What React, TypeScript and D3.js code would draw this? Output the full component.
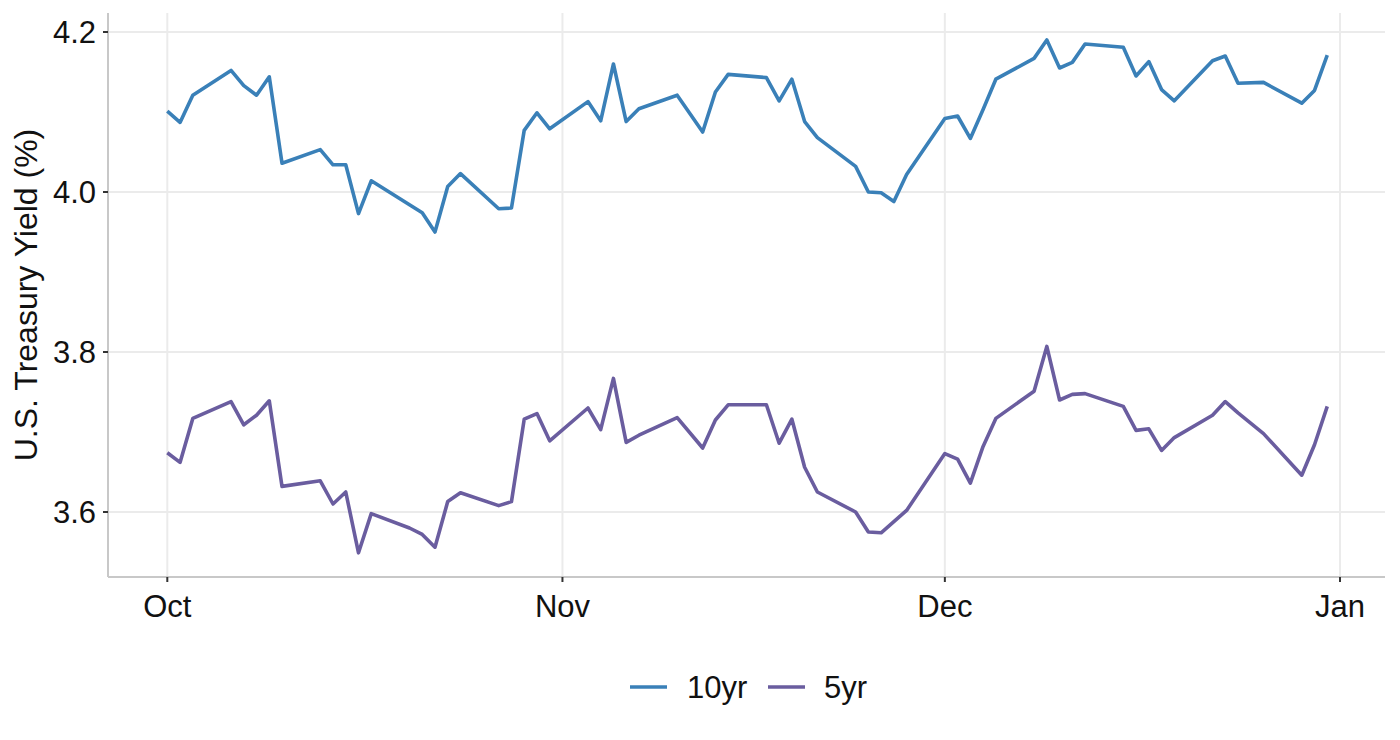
import React from "react";
import * as d3 from "d3";

const dates: string[] = [
  "2025-10-01","2025-10-02","2025-10-03","2025-10-06","2025-10-07","2025-10-08","2025-10-09","2025-10-10",
  "2025-10-13","2025-10-14","2025-10-15","2025-10-16","2025-10-17","2025-10-20","2025-10-21","2025-10-22",
  "2025-10-23","2025-10-24","2025-10-27","2025-10-28","2025-10-29","2025-10-30","2025-10-31",
  "2025-11-03","2025-11-04","2025-11-05","2025-11-06","2025-11-07","2025-11-10","2025-11-12","2025-11-13",
  "2025-11-14","2025-11-17","2025-11-18","2025-11-19","2025-11-20","2025-11-21","2025-11-24","2025-11-25",
  "2025-11-26","2025-11-27","2025-11-28",
  "2025-12-01","2025-12-02","2025-12-03","2025-12-04","2025-12-05","2025-12-08","2025-12-09","2025-12-10",
  "2025-12-11","2025-12-12","2025-12-15","2025-12-16","2025-12-17","2025-12-18","2025-12-19","2025-12-22",
  "2025-12-23","2025-12-24","2025-12-26","2025-12-29","2025-12-30","2025-12-31",
];

const yield10: (number | null)[] = [
  4.101, 4.087, 4.121, 4.152, 4.133, 4.121, 4.144, 4.036,
  4.053, 4.034, 4.034, 3.973, 4.014, 3.984, 3.974, 3.950,
  4.007, 4.023, 3.979, 3.980, 4.077, 4.099, 4.079,
  4.113, 4.089, 4.160, 4.088, 4.104, 4.121, 4.075, 4.125,
  4.147, 4.143, 4.114, 4.141, 4.088, 4.068, 4.032, 4.000,
  3.999, 3.988, 4.022,
  4.092, 4.095, 4.067, 4.103, 4.141, 4.167, 4.190, 4.155,
  4.162, 4.185, 4.181, 4.145, 4.163, 4.128, 4.114, 4.164,
  4.170, 4.136, 4.137, 4.111, 4.127, 4.171,
];

const yield5: (number | null)[] = [
  3.674, 3.662, 3.717, 3.738, 3.709, 3.721, 3.739, 3.632,
  3.639, 3.610, 3.625, 3.549, 3.598, 3.580, 3.572, 3.556,
  3.613, 3.624, 3.608, 3.613, 3.716, 3.723, 3.689,
  3.730, 3.703, 3.767, 3.687, 3.696, 3.718, 3.680, 3.715,
  3.734, 3.734, 3.686, 3.716, 3.656, 3.625, 3.600, 3.575,
  3.574, null, 3.602,
  3.673, 3.666, 3.636, 3.682, 3.717, 3.751, 3.807, 3.740,
  3.747, 3.748, 3.732, 3.702, 3.704, 3.677, 3.693, 3.721,
  3.738, 3.724, 3.698, 3.646, 3.684, 3.732,
];

const seriesNames = ["10yr", "5yr"];
const seriesColors = ["#3a80b8", "#6a5d9f"];
const yTicks = [3.6, 3.8, 4.0, 4.2];
const xTickDates = ["2025-10-01", "2025-11-01", "2025-12-01", "2026-01-01"];
const xTickLabels = ["Oct", "Nov", "Dec", "Jan"];
const yTitle = "U.S. Treasury Yield (%)";

const parse = d3.timeParse("%Y-%m-%d");
const FONT = "'Liberation Sans', Arial, Helvetica, sans-serif";

export default function App() {
  const W = 1400, H = 740;
  const panel = { left: 108, right: 1385, top: 13, bottom: 577 };

  const x = d3.scaleTime()
    .domain([parse("2025-10-01")!, parse("2026-01-01")!])
    .range([167.3, 1340]);
  const y = d3.scaleLinear().domain([3.6, 4.2]).range([512, 32]);

  const series = [yield10, yield5].map((vals, i) => ({
    name: seriesNames[i],
    color: seriesColors[i],
    points: dates
      .map((d, j) => ({ date: parse(d)!, value: vals[j] }))
      .filter((p) => p.value !== null) as { date: Date; value: number }[],
  }));

  const line = d3.line<{ date: Date; value: number }>()
    .x((d) => x(d.date))
    .y((d) => y(d.value));

  const gridColor = "#ebebeb";
  const axisColor = "#c8c8c8";
  const fs = 31;
  const titleFs = 32;

  const legendY = 687;
  const legendItems = [
    { keyX: 630, textX: 687 },
    { keyX: 768, textX: 824 },
  ];

  return (
    <svg width={W} height={H} style={{ position: "absolute", left: 0, top: 0, background: "#fff" }}>
      <rect x={0} y={0} width={W} height={H} fill="#fff" />
      {/* grid */}
      {yTicks.map((t) => (
        <line key={"gy" + t} x1={panel.left} x2={panel.right} y1={y(t)} y2={y(t)} stroke={gridColor} strokeWidth={2} />
      ))}
      {xTickDates.map((t) => (
        <line key={"gx" + t} x1={x(parse(t)!)} x2={x(parse(t)!)} y1={panel.top} y2={panel.bottom} stroke={gridColor} strokeWidth={2} />
      ))}
      {/* axes */}
      <line x1={panel.left} x2={panel.left} y1={panel.top} y2={panel.bottom} stroke={axisColor} strokeWidth={2} />
      <line x1={panel.left} x2={panel.right} y1={panel.bottom} y2={panel.bottom} stroke={axisColor} strokeWidth={2} />
      {yTicks.map((t) => (
        <g key={"ty" + t}>
          <line x1={panel.left - 5} x2={panel.left} y1={y(t)} y2={y(t)} stroke="#333" strokeWidth={2} />
          <text x={panel.left - 12} y={y(t)} dy="0.35em" textAnchor="end" fontFamily={FONT} fontSize={fs} fill="#111">
            {d3.format(".1f")(t)}
          </text>
        </g>
      ))}
      {xTickDates.map((t, i) => (
        <g key={"tx" + t}>
          <line x1={x(parse(t)!)} x2={x(parse(t)!)} y1={panel.bottom} y2={panel.bottom + 5} stroke="#333" strokeWidth={2} />
          <text x={x(parse(t)!)} y={617} textAnchor="middle" fontFamily={FONT} fontSize={fs} fill="#111">
            {xTickLabels[i]}
          </text>
        </g>
      ))}
      <text
        transform={`translate(37, ${(panel.top + panel.bottom) / 2}) rotate(-90)`}
        textAnchor="middle"
        fontFamily={FONT}
        fontSize={titleFs}
        fill="#111"
      >
        {yTitle}
      </text>
      {/* lines */}
      {series.map((s) => (
        <path key={s.name} d={line(s.points) || ""} fill="none" stroke={s.color} strokeWidth={3.6} strokeLinejoin="round" />
      ))}
      {/* legend */}
      {series.map((s, i) => (
        <g key={"lg" + s.name}>
          <line x1={legendItems[i].keyX} x2={legendItems[i].keyX + 37} y1={legendY} y2={legendY} stroke={s.color} strokeWidth={3.6} />
          <text x={legendItems[i].textX} y={legendY} dy="0.35em" fontFamily={FONT} fontSize={fs} fill="#111">
            {s.name}
          </text>
        </g>
      ))}
    </svg>
  );
}
